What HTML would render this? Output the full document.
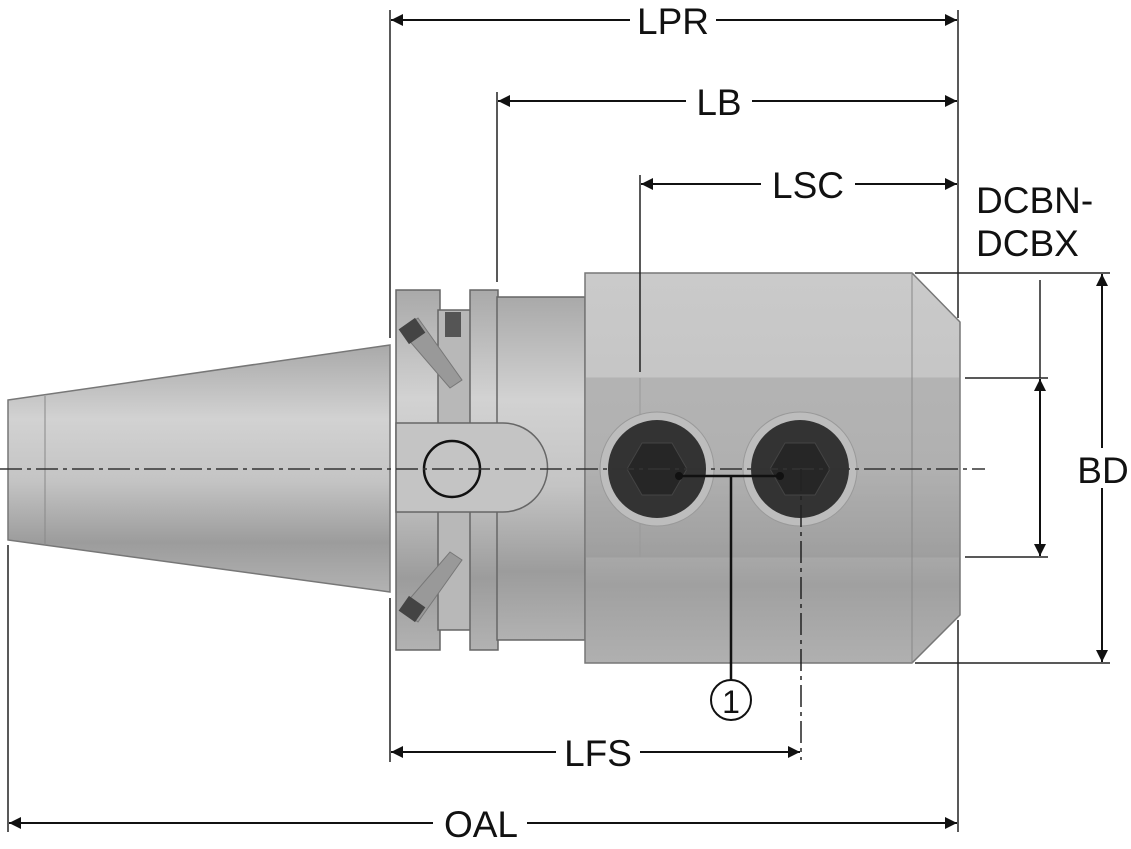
<!DOCTYPE html>
<html><head><meta charset="utf-8"><style>body{margin:0;background:#fff}svg{display:block}text{font-family:"Liberation Sans",sans-serif;font-size:37px;fill:#111}</style></head><body>
<svg width="1131" height="849" viewBox="0 0 1131 849" xmlns="http://www.w3.org/2000/svg">
<defs>
<linearGradient id="g" x1="0" y1="0" x2="0" y2="1">
<stop offset="0" stop-color="#a9a9a9"/><stop offset="0.3" stop-color="#d2d2d2"/><stop offset="0.55" stop-color="#c4c4c4"/><stop offset="0.8" stop-color="#9c9c9c"/><stop offset="1" stop-color="#b2b2b2"/></linearGradient>
<linearGradient id="b" x1="0" y1="0" x2="0" y2="1">
<stop offset="0" stop-color="#cacaca"/><stop offset="0.5" stop-color="#c2c2c2"/><stop offset="0.8" stop-color="#a0a0a0"/><stop offset="1" stop-color="#b0b0b0"/></linearGradient>
<marker id="a" viewBox="0 0 10 10" refX="10" refY="5" markerWidth="16" markerHeight="12" markerUnits="userSpaceOnUse" orient="auto-start-reverse"><path d="M0,0L10,5L0,10z" fill="#111"/></marker>
</defs>
<path d="M8,400 L390,345 L390,592 L8,540 Z" fill="url(#g)" stroke="#777" stroke-width="1.5"/>
<line x1="45" y1="396" x2="45" y2="545" stroke="#888"/>
<rect x="396" y="290" width="44" height="360" fill="url(#g)" stroke="#666" stroke-width="1.5"/>
<rect x="438" y="310" width="34" height="320" fill="#b8b8b8" stroke="#666" stroke-width="1.5"/>
<rect x="470" y="290" width="28" height="360" fill="url(#g)" stroke="#666" stroke-width="1.5"/>
<rect x="445" y="312" width="16" height="25" fill="#555"/>
<path d="M400,330 L418,318 L462,380 L450,388Z" fill="#999" stroke="#777"/>
<path d="M400,610 L418,622 L462,560 L450,552Z" fill="#999" stroke="#777"/>
<rect x="402" y="322" width="20" height="18" fill="#444" transform="rotate(-35 412 331)"/>
<rect x="402" y="600" width="20" height="18" fill="#444" transform="rotate(35 412 609)"/>
<rect x="497" y="297" width="88" height="343" fill="url(#g)" stroke="#666" stroke-width="1.5"/>
<path d="M396,423 L503,423 A44,44 0 0 1 503,512 L396,512 Z" fill="#c4c4c4" stroke="#666" stroke-width="1.5"/>
<circle cx="452" cy="469" r="28" fill="none" stroke="#111" stroke-width="2.5"/>
<path d="M585,273 L912,273 L960,322 L960,615 L912,663 L585,663 Z" fill="url(#b)" stroke="#777" stroke-width="1.5"/>
<rect x="585" y="378" width="375" height="179" fill="#8a8a8a" opacity="0.3" stroke="#888"/>
<line x1="912" y1="273" x2="912" y2="663" stroke="#888"/>
<line x1="640" y1="378" x2="640" y2="557" stroke="#999"/>
<circle cx="657" cy="469" r="57" fill="#bdbdbd" stroke="#999"/>
<circle cx="657" cy="469" r="49" fill="#333"/>
<polygon points="627,469 642,443 672,443 687,469 672,495 642,495" fill="#262626" stroke="#444"/>
<circle cx="800" cy="469" r="57" fill="#bdbdbd" stroke="#999"/>
<circle cx="800" cy="469" r="49" fill="#333"/>
<polygon points="770,469 785,443 815,443 830,469 815,495 785,495" fill="#262626" stroke="#444"/>
<line x1="0" y1="469" x2="985" y2="469" stroke="#333" stroke-width="1.5" stroke-dasharray="22,5,4,5"/>
<line x1="801" y1="469" x2="801" y2="760" stroke="#222" stroke-width="1.5" stroke-dasharray="22,5,4,5"/>
<g stroke="#222" stroke-width="1.5">
<line x1="390" y1="10" x2="390" y2="338"/><line x1="390" y1="598" x2="390" y2="762"/>
<line x1="958" y1="10" x2="958" y2="318"/><line x1="958" y1="620" x2="958" y2="832"/>
<line x1="497" y1="92" x2="497" y2="282"/>
<line x1="640" y1="175" x2="640" y2="372"/>
<line x1="8" y1="545" x2="8" y2="832"/>
<line x1="1040" y1="280" x2="1040" y2="378"/>
<line x1="965" y1="378" x2="1048" y2="378"/><line x1="965" y1="557" x2="1048" y2="557"/>
<line x1="915" y1="273" x2="1110" y2="273"/><line x1="915" y1="663" x2="1110" y2="663"/>
</g>
<g stroke="#111" stroke-width="2" marker-start="url(#a)" marker-end="url(#a)">
<line x1="391" y1="20" x2="957" y2="20"/>
<line x1="498" y1="101" x2="957" y2="101"/>
<line x1="641" y1="184" x2="957" y2="184"/>
<line x1="1040" y1="379" x2="1040" y2="556"/>
<line x1="1102" y1="274" x2="1102" y2="662"/>
<line x1="391" y1="752" x2="800" y2="752"/>
<line x1="9" y1="823" x2="957" y2="823"/>
</g>
<g text-anchor="middle">
<rect x="630" y="2" width="86" height="36" fill="#fff"/><text x="673" y="34">LPR</text>
<rect x="686" y="83" width="66" height="36" fill="#fff"/><text x="719" y="115">LB</text>
<rect x="761" y="166" width="94" height="36" fill="#fff"/><text x="808" y="198">LSC</text>
<rect x="556" y="734" width="84" height="36" fill="#fff"/><text x="598" y="766">LFS</text>
<rect x="433" y="805" width="94" height="36" fill="#fff"/><text x="481" y="837">OAL</text>
<rect x="1075" y="448" width="56" height="40" fill="#fff"/><text x="1103" y="483">BD</text>
</g>
<text x="976" y="213">DCBN-</text>
<text x="976" y="256">DCBX</text>
<g stroke="#111" stroke-width="2.5" fill="none">
<line x1="679" y1="476" x2="780" y2="476"/>
<line x1="731" y1="476" x2="731" y2="680"/>
</g>
<circle cx="679" cy="476" r="4" fill="#111"/><circle cx="780" cy="476" r="4" fill="#111"/>
<circle cx="731" cy="700" r="20" fill="#fff" stroke="#111" stroke-width="2"/>
<text x="731" y="713" text-anchor="middle" style="font-size:32px">1</text>
</svg>
</body></html>
